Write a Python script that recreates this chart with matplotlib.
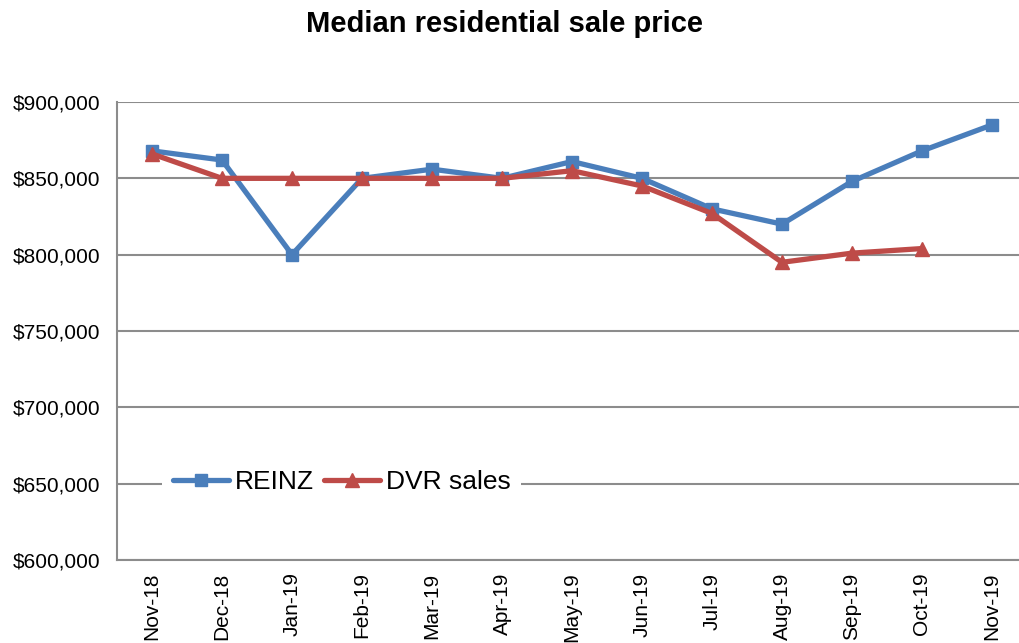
import matplotlib
matplotlib.use("Agg")
import matplotlib.pyplot as plt
from matplotlib.ticker import FuncFormatter

plt.rcParams["font.family"] = ["Liberation Sans", "DejaVu Sans"]

months = ["Nov-18", "Dec-18", "Jan-19", "Feb-19", "Mar-19", "Apr-19", "May-19",
          "Jun-19", "Jul-19", "Aug-19", "Sep-19", "Oct-19", "Nov-19"]
reinz = [868000, 862000, 800000, 850000, 856000, 850000, 861000,
         850000, 830000, 820000, 848000, 868000, 885000]
dvr_sales = [866000, 850000, 850000, 850000, 850000, 850000, 855000,
             845000, 827000, 795000, 801000, 804000]

blue = "#4a7ebb"
red = "#be4b48"
grid_grey = "#8c8c8c"

W, H = 1019, 643
fig = plt.figure(figsize=(W / 100, H / 100), dpi=100)
# plot area runs a little past the right edge of the picture, as in the original
ax = fig.add_axes([117 / W, 1 - 560 / H, 910 / W, 458 / H])

x = range(len(months))
ax.plot(x, reinz, color=blue, lw=3.8, marker="s", ms=8, label="REINZ",
        solid_joinstyle="round", solid_capstyle="round", zorder=3)
ax.plot(range(len(dvr_sales)), dvr_sales, color=red, lw=3.8, marker="^", ms=9.5,
        label="DVR sales", solid_joinstyle="round", solid_capstyle="round",
        zorder=4)

ax.set_xlim(-0.5, 12.5)
ax.set_ylim(600000, 900000)
ax.set_yticks(range(600000, 900001, 50000))
ax.yaxis.set_major_formatter(FuncFormatter(lambda v, _: f"${v:,.0f}"))
ax.set_xticks(list(x))
ax.set_xticklabels(months, rotation=90, fontsize=15)
ax.tick_params(axis="y", labelsize=15, length=0, pad=12)
ax.tick_params(axis="x", length=0, pad=9)

ax.grid(axis="y", color=grid_grey, lw=1.5)
ax.set_axisbelow(True)
for side in ("top", "right"):
    ax.spines[side].set_visible(False)
for side in ("left", "bottom"):
    ax.spines[side].set_color(grid_grey)
    ax.spines[side].set_linewidth(1.5)

leg = ax.legend(loc="center left", bbox_to_anchor=(45 / 910, (560 - 482) / 458),
                ncol=2, frameon=True, fontsize=19, handlelength=2.15,
                handletextpad=0.2, columnspacing=0.38, borderpad=0.4,
                borderaxespad=0)
leg.get_frame().set_edgecolor("none")
leg.get_frame().set_facecolor("white")
leg.get_frame().set_alpha(1)
leg.get_frame().set_boxstyle("square", pad=0)

fig.text(505 / W, 1 - 24 / H, "Median residential sale price",
         ha="center", va="center", fontsize=21, fontweight="bold")

fig.savefig("out.png", dpi=100)
